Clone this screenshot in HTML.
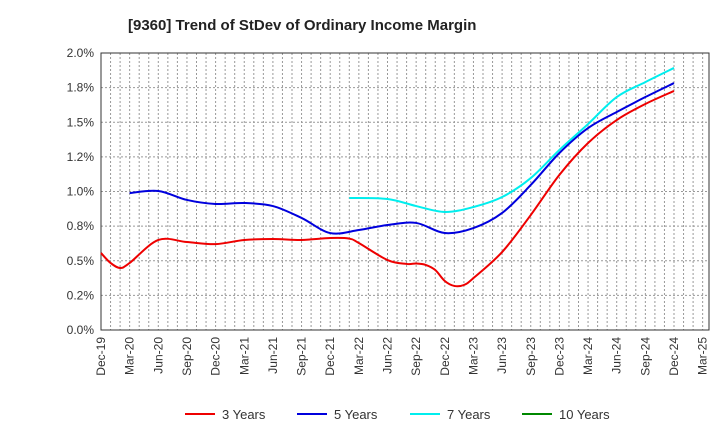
<!DOCTYPE html>
<html><head><meta charset="utf-8"><style>body{margin:0;background:#fff}svg{display:block}text{font-family:"Liberation Sans",sans-serif}</style></head><body>
<svg id="c" width="720" height="440"></svg>
<script>
const xLabels=["Dec-19","Mar-20","Jun-20","Sep-20","Dec-20","Mar-21","Jun-21","Sep-21","Dec-21","Mar-22","Jun-22","Sep-22","Dec-22","Mar-23","Jun-23","Sep-23","Dec-23","Mar-24","Jun-24","Sep-24","Dec-24","Mar-25"];
const yTicks=[0,0.25,0.5,0.75,1.0,1.25,1.5,1.75,2.0];
const yTickLabels=["0.0%","0.2%","0.5%","0.8%","1.0%","1.2%","1.5%","1.8%","2.0%"];
// monthly index from Dec-19, values in %
const s3idx=[0,1,2,3,6,9,12,15,18,21,24,26,27,30,32,33,34,35,36,37,38,39,42,45,48,51,54,57,60];
const s3val=[0.556,0.484,0.448,0.484,0.65,0.635,0.62,0.65,0.657,0.65,0.664,0.66,0.628,0.505,0.477,0.48,0.47,0.433,0.354,0.318,0.325,0.375,0.563,0.83,1.12,1.35,1.516,1.632,1.726];
const s5idx=[3,6,9,12,15,18,21,24,27,30,33,36,39,42,45,48,51,54,57,60];
const s5val=[0.989,1.004,0.939,0.91,0.917,0.895,0.809,0.70,0.722,0.758,0.773,0.70,0.736,0.845,1.047,1.278,1.458,1.574,1.682,1.783];
const s7idx=[26,30,33,36,39,42,45,48,51,54,57,60];
const s7val=[0.953,0.946,0.895,0.852,0.888,0.96,1.097,1.30,1.487,1.682,1.79,1.892];
const L=101,R=709,T=53,B=330,PM=9.55;
const X=m=>L+PM*m, Y=v=>B-(B-T)*v/2;
const svg=document.getElementById('c'),NS="http://www.w3.org/2000/svg";
function el(t,a,p){const e=document.createElementNS(NS,t);for(const k in a)e.setAttribute(k,a[k]);(p||svg).appendChild(e);return e;}
let t=el('text',{x:128,y:30,'font-size':15,'font-weight':'bold',fill:'#222'});t.textContent="[9360]  Trend of StDev of Ordinary Income Margin";

const g=el('g',{});
for(let m=1;X(m)<R-1;m++)el('line',{x1:X(m),x2:X(m),y1:T,y2:B,stroke:'#999','stroke-dasharray':'2,2','stroke-width':1},g);
yTicks.forEach((v,i)=>{if(i>0&&i<yTicks.length-1)el('line',{x1:L,x2:R,y1:Y(v),y2:Y(v),stroke:'#999','stroke-dasharray':'2,2'},g);
 const tx=el('text',{x:L-7,y:Y(v)+4,'font-size':12,'text-anchor':'end',fill:'#333'});tx.textContent=yTickLabels[i];
 });
xLabels.forEach((s,i)=>{const x=X(i*3);const tx=el('text',{transform:`translate(${x+4},${B+7}) rotate(-90)`,'font-size':12,'text-anchor':'end',fill:'#333'});tx.textContent=s;
 });
const fr=el('rect',{x:L,y:T,width:R-L,height:B-T,fill:'none',stroke:'#333'});
function path(idx,val){const p=idx.map((m,i)=>[X(m),Y(val[i])]);let d=`M${p[0][0]},${p[0][1]}`;
 for(let i=0;i<p.length-1;i++){const p0=p[i-1]||p[i],p1=p[i],p2=p[i+1],p3=p[i+2]||p2;
 d+=` C${p1[0]+(p2[0]-p0[0])/6},${p1[1]+(p2[1]-p0[1])/6} ${p2[0]-(p3[0]-p1[0])/6},${p2[1]-(p3[1]-p1[1])/6} ${p2[0]},${p2[1]}`;}return d;}
[[s3idx,s3val,'#ee0000','line-3-years'],[s5idx,s5val,'#0000dd','line-5-years'],[s7idx,s7val,'#00eeee','line-7-years']].forEach(a=>{
 const p=el('path',{d:path(a[0],a[1]),fill:'none',stroke:a[2],'stroke-width':2});});
[["3 Years",'#ee0000',185],["5 Years",'#0000dd',297],["7 Years",'#00eeee',410],["10 Years",'#008800',522]].forEach(l=>{
 const gg=el('g',{});
 el('line',{x1:l[2],x2:l[2]+30,y1:414,y2:414,stroke:l[1],'stroke-width':2},gg);
 const tx=el('text',{x:l[2]+37,y:419,'font-size':13,fill:'#333'},gg);tx.textContent=l[0];});
</script></body></html>
